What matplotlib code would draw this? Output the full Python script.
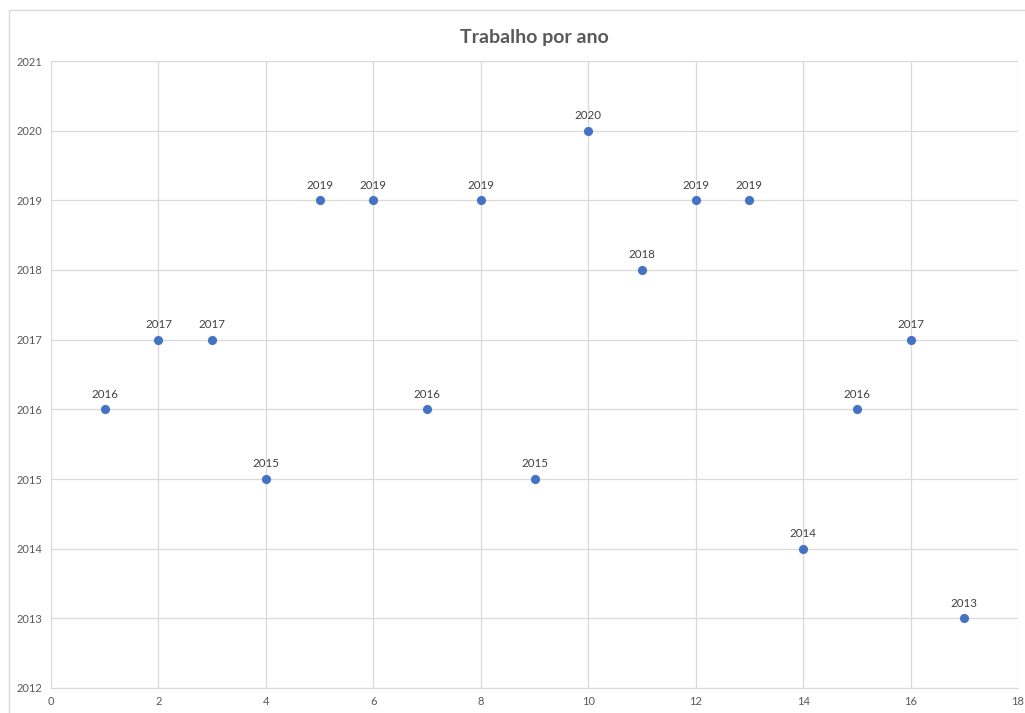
import matplotlib
matplotlib.use('Agg')
import matplotlib.pyplot as plt
from matplotlib.patches import Rectangle

# dados
trabalhos = [1, 2, 3, 4, 5, 6, 7, 8, 9, 10, 11, 12, 13, 14, 15, 16, 17]
anos = [2016, 2017, 2017, 2015, 2019, 2019, 2016, 2019, 2015, 2020,
        2018, 2019, 2019, 2014, 2016, 2017, 2013]
x_ticks = [0, 2, 4, 6, 8, 10, 12, 14, 16, 18]
y_ticks = [2012, 2013, 2014, 2015, 2016, 2017, 2018, 2019, 2020, 2021]

plt.rcParams['font.family'] = ['Lato', 'DejaVu Sans']
cinza = '#595959'
grade = '#d9d9d9'

fig = plt.figure(figsize=(10.25, 7.13), dpi=100)
ax = fig.add_axes([51/1025, 1-688/713, (1018-51)/1025, (688-61)/713])

# sombra + pontos
ax.scatter(trabalhos, anos, s=50, color='#9aa3b0', alpha=0.3, zorder=3, linewidths=0)
ax.scatter(trabalhos, anos, s=42, color='#4472C4', zorder=4, linewidths=0)

for x, y in zip(trabalhos, anos):
    ax.annotate(str(y), (x, y), xytext=(0, 7), textcoords='offset points',
                ha='center', va='bottom', fontsize=8.3, color='#404040')

ax.set_xlim(0, 18)
ax.set_ylim(2012, 2021)
ax.set_xticks(x_ticks)
ax.set_yticks(y_ticks)
ax.tick_params(length=0, labelsize=8, labelcolor=cinza, pad=6)
ax.grid(True, color=grade, linewidth=0.9)
ax.set_axisbelow(True)
for s in ['top', 'right', 'left']:
    ax.spines[s].set_visible(False)
ax.spines['bottom'].set_color(grade)

fig.text((51+1018)/2/1025, 1-37/713, 'Trabalho por ano', ha='center', va='center',
         fontsize=14, fontweight='bold', color=cinza)

# moldura do gráfico
fig.patches.append(Rectangle((9/1025, -0.05), 1.1, 1-10/713+0.05, transform=fig.transFigure,
                             fill=False, edgecolor='#d9d9d9', linewidth=1))

fig.savefig('out.png', dpi=100)
